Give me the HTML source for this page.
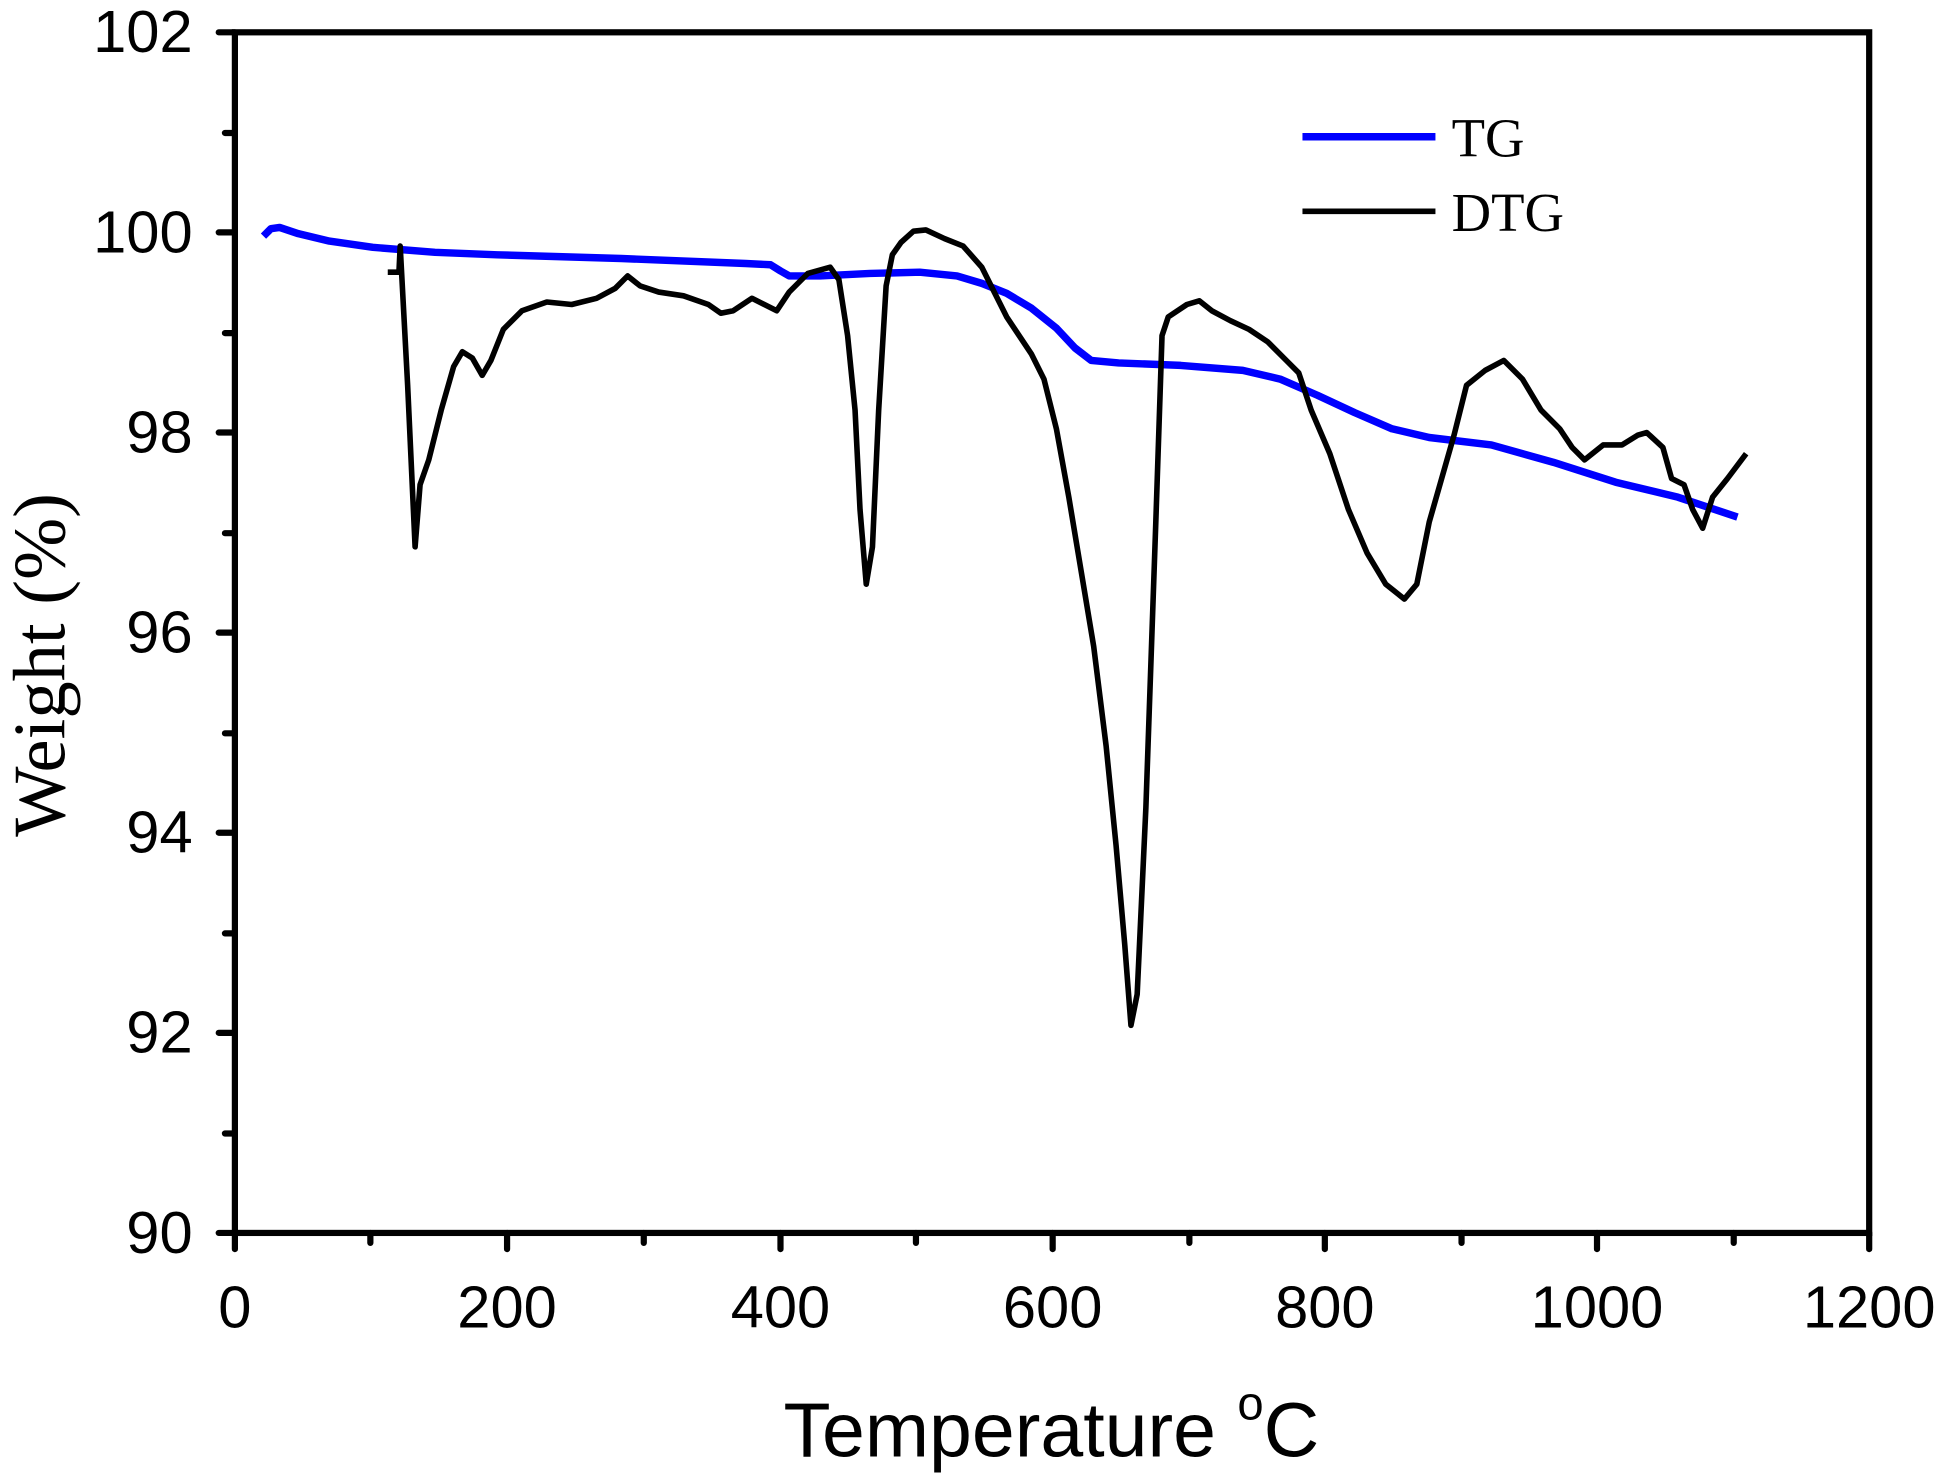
<!DOCTYPE html>
<html><head><style>html,body{margin:0;padding:0;background:#fff}svg{display:block}</style></head><body>
<svg width="1945" height="1484" viewBox="0 0 1565 1194" preserveAspectRatio="none" xmlns="http://www.w3.org/2000/svg">
<g stroke="#000" stroke-width="5" stroke-linecap="round" fill="none">
<rect x="189" y="26" width="1315" height="966"/>
<path d="M189 26h-13M189 187h-13M189 348h-13M189 509h-13M189 670h-13M189 831h-13M189 992h-13"/>
<path d="M189 107h-8M189 268h-8M189 429h-8M189 590h-8M189 751h-8M189 912h-8"/>
<path d="M189 992v13M408 992v13M628 992v13M847 992v13M1066 992v13M1285 992v13M1504 992v13"/>
<path d="M298 992v8M518 992v8M737 992v8M957 992v8M1176 992v8M1395 992v8"/>
</g>
<g font-family="Liberation Sans, sans-serif" font-size="48" text-anchor="end">
<text x="155" y="42">102</text><text x="155" y="203">100</text><text x="155" y="364">98</text><text x="155" y="525">96</text><text x="155" y="686">94</text><text x="155" y="847">92</text><text x="155" y="1008">90</text>
</g>
<g font-family="Liberation Sans, sans-serif" font-size="48" text-anchor="middle">
<text x="189" y="1068">0</text><text x="408" y="1068">200</text><text x="628" y="1068">400</text><text x="847" y="1068">600</text><text x="1066" y="1068">800</text><text x="1285" y="1068">1000</text><text x="1504" y="1068">1200</text>
</g>
<text x="846" y="1172" font-family="Liberation Sans, sans-serif" font-size="62" text-anchor="middle">Temperature <tspan font-size="38" dy="-30">o</tspan><tspan dy="30">C</tspan></text>
<text transform="translate(52,535) rotate(-90)" font-family="Liberation Serif, serif" font-size="60" text-anchor="middle">Weight (%)</text>
<polyline fill="none" stroke="#0000ff" stroke-width="6" stroke-linejoin="round" points="212,190 218,184 225,183 240,188 265,194 300,199 350,203 400,205 500,208 600,212 620,213 628,218 635,222 660,222 700,220 740,219 770,222 790,228 810,236 830,248 850,264 865,280 878,290 900,292 950,294 1000,298 1030,305 1060,318 1090,332 1120,345 1150,352 1200,358 1250,372 1300,388 1350,400 1398,416"/>
<polyline fill="none" stroke="#000" stroke-width="4.5" stroke-linejoin="round" points="312,219 321,219 322,198 328,310 334,440 338,390 345,370 355,330 365,295 372,283 380,288 388,302 395,290 405,265 420,250 440,243 460,245 480,240 495,232 505,222 515,230 530,235 550,238 570,245 580,252 590,250 605,240 615,245 625,250 635,235 650,220 668,215 675,225 682,270 688,330 692,410 697,470 702,440 707,330 713,230 718,205 725,195 735,186 745,185 760,192 775,198 790,215 800,235 810,255 820,270 830,285 840,305 850,345 860,400 870,460 880,520 890,600 898,680 905,760 910,825 915,800 922,650 930,420 935,270 940,255 955,245 965,242 975,250 990,258 1005,265 1020,275 1035,290 1045,300 1055,330 1070,365 1085,410 1100,445 1115,470 1130,482 1140,470 1150,420 1160,385 1170,350 1180,310 1195,298 1210,290 1225,305 1240,330 1255,345 1265,360 1275,370 1290,358 1305,358 1318,350 1325,348 1338,360 1345,385 1355,390 1362,410 1370,425 1378,400 1390,385 1405,365"/>
<line x1="1048" y1="110" x2="1155" y2="110" stroke="#0000ff" stroke-width="6"/>
<line x1="1048" y1="170" x2="1155" y2="170" stroke="#000" stroke-width="4.5"/>
<g font-family="Liberation Serif, serif" font-size="44">
<text x="1168" y="126">TG</text><text x="1168" y="186">DTG</text>
</g>
</svg>
</body></html>
